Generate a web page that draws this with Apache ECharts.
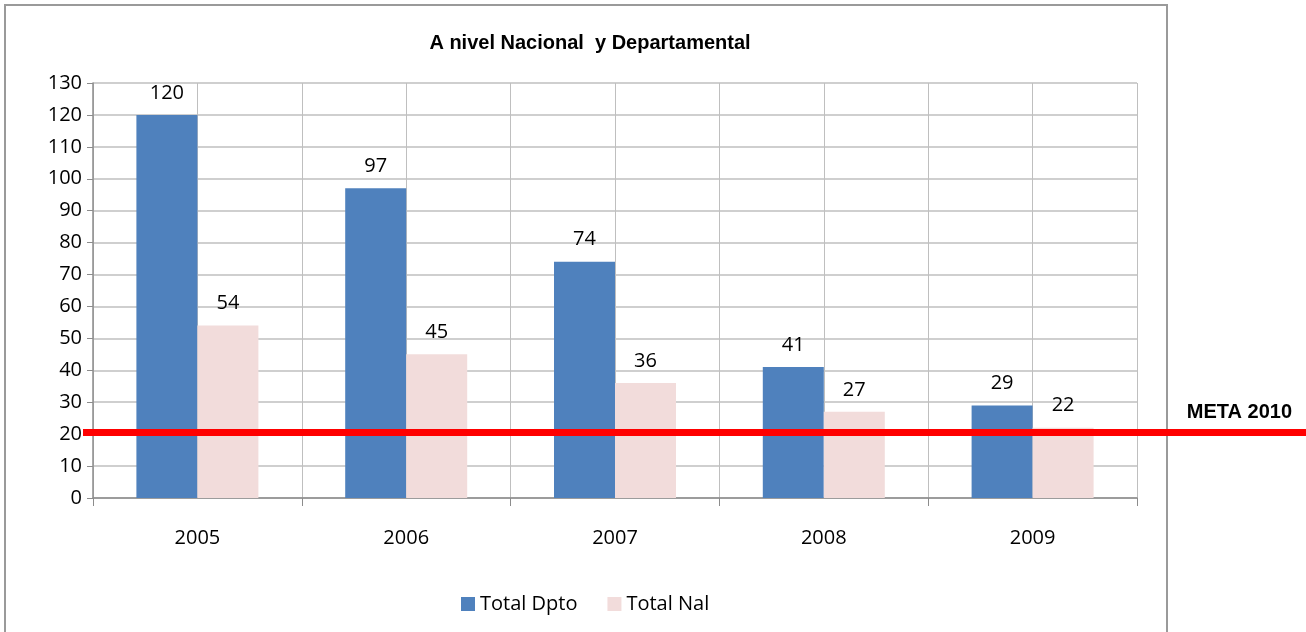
<!DOCTYPE html>
<html>
<head>
<meta charset="utf-8">
<script src="https://cdn.jsdelivr.net/npm/echarts@6/dist/echarts.min.js"></script>
<style>
  html, body { margin: 0; padding: 0; background: #fff; }
  #frame { position: absolute; left: 4px; top: 4px; width: 1160px; height: 640px; border: 2px solid #9a9a9a; }
  #chart { position: absolute; left: 0; top: 0; width: 1306px; height: 632px; }
</style>
</head>
<body>
<div id="frame"></div>
<div id="chart"></div>
<script>
  const years = ["2005", "2006", "2007", "2008", "2009"];
  const totalDpto = [120, 97, 74, 41, 29];
  const totalNal = [54, 45, 36, 27, 22];
  const metaValue = 20.7;
  const metaLabel = "META 2010";

  const chart = echarts.init(document.getElementById("chart"));
  const txt = "'Open Sans', 'Noto Sans', sans-serif";

  const option = {
    animation: false,
    title: {
      text: "A nivel Nacional  y Departamental",
      left: 585,
      top: 28,
      textAlign: "center",
      textStyle: { fontFamily: "'Liberation Sans Narrow', 'Liberation Sans', sans-serif", fontSize: 20, fontWeight: "bold", color: "#000" },
    },
    legend: {
      left: 456,
      top: 589,
      itemWidth: 14,
      itemHeight: 14,
      itemGap: 30,
      icon: "rect",
      textStyle: { fontFamily: txt, fontSize: 20, color: "#000" },
      data: ["Total Dpto", "Total Nal"],
    },
    grid: [
      { left: 93, right: 169, top: 83, bottom: 134 },
      { left: 83, right: 0, top: 83, bottom: 134 },
    ],
    xAxis: [
      {
        type: "category",
        data: years,
        gridIndex: 0,
        axisLine: { lineStyle: { color: "#8c8c8c", width: 1.5 } },
        axisTick: { show: true, length: 8, lineStyle: { color: "#8c8c8c" } },
        axisLabel: { margin: 30, fontFamily: txt, fontSize: 20, color: "#000" },
        splitLine: { show: true, lineStyle: { color: "#bfbfbf" } },
      },
      {
        // half-category grid lines
        type: "value",
        gridIndex: 0,
        min: 0,
        max: 10,
        interval: 1,
        axisLine: { show: false },
        axisTick: { show: false },
        axisLabel: { show: false },
        splitLine: { show: true, lineStyle: { color: "#bfbfbf" } },
      },
      {
        type: "value",
        gridIndex: 1,
        min: 0,
        max: 1,
        show: false,
      },
    ],
    yAxis: [
      {
        type: "value",
        gridIndex: 0,
        min: 0,
        max: 130,
        interval: 10,
        axisLine: { show: true, lineStyle: { color: "#8c8c8c", width: 1.5 } },
        axisTick: { show: true, length: 6, lineStyle: { color: "#8c8c8c" } },
        axisLabel: { margin: 11, fontFamily: txt, fontSize: 20, color: "#000" },
        splitLine: { show: true, lineStyle: { color: "#bfbfbf", width: 1.5 } },
      },
      {
        type: "value",
        gridIndex: 1,
        min: 0,
        max: 130,
        show: false,
      },
    ],
    series: [
      {
        name: "Total Dpto",
        type: "bar",
        data: totalDpto,
        xAxisIndex: 0,
        yAxisIndex: 0,
        barWidth: 61,
        barGap: "0%",
        itemStyle: { color: "#4F81BD" },
        label: { show: true, position: "top", distance: 12, fontFamily: txt, fontSize: 20, color: "#000" },
      },
      {
        name: "Total Nal",
        type: "bar",
        data: totalNal,
        xAxisIndex: 0,
        yAxisIndex: 0,
        barWidth: 61,
        barGap: "0%",
        itemStyle: { color: "#F2DCDB" },
        label: { show: true, position: "top", distance: 12, fontFamily: txt, fontSize: 20, color: "#000" },
      },
      {
        name: "meta",
        type: "line",
        xAxisIndex: 2,
        yAxisIndex: 1,
        data: [],
        markLine: {
          silent: true,
          symbol: ["none", "none"],
          lineStyle: { color: "#FF0000", width: 7, type: "solid" },
          label: {
            show: true,
            position: "insideEndTop",
            distance: [14, 9],
            formatter: metaLabel,
            fontFamily: "'Liberation Sans', Arial, sans-serif",
            fontSize: 20,
            fontWeight: "bold",
            color: "#000",
          },
          data: [{ yAxis: metaValue }],
        },
      },
    ],
  };

  chart.setOption(option);
</script>
</body>
</html>
